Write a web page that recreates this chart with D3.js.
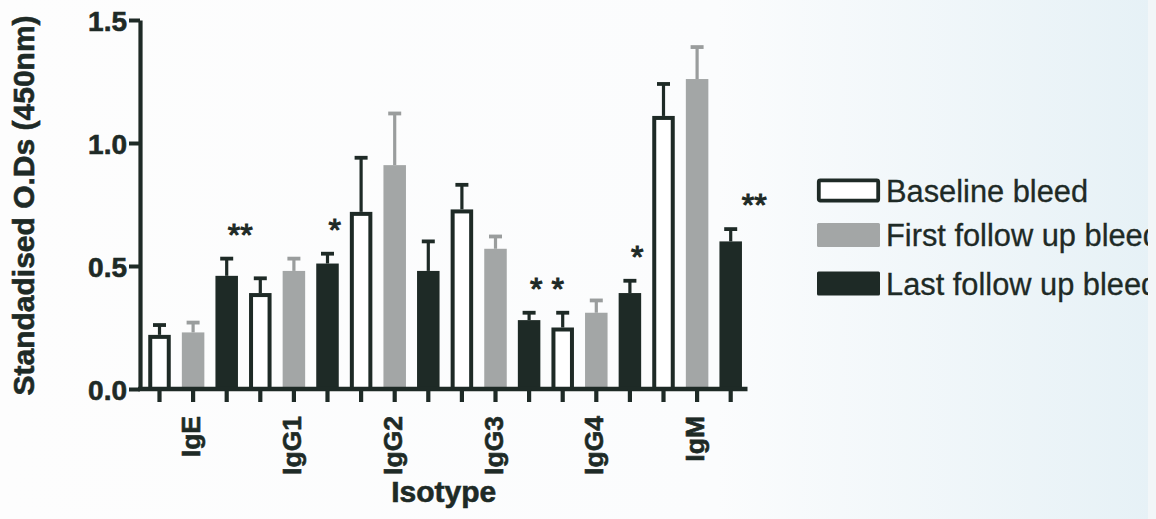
<!DOCTYPE html>
<html>
<head>
<meta charset="utf-8">
<script src="https://cdn.jsdelivr.net/npm/d3@7"></script>
<style>
  html, body { margin: 0; padding: 0; background: #fbfcfc; }
  svg { display: block; }
</style>
</head>
<body>
<svg id="chart" width="1156" height="519"></svg>
<script>
// ---------- data ----------
const categories = ["IgE", "IgG1", "IgG2", "IgG3", "IgG4", "IgM"];
const seriesNames = ["Baseline bleed", "First follow up bleed", "Last follow up bleed"];
const baselineMean = [0.22, 0.39, 0.72, 0.73, 0.25, 1.11];
const baselineErr  = [0.04, 0.06, 0.22, 0.10, 0.06, 0.13];
const firstMean    = [0.23, 0.48, 0.91, 0.57, 0.31, 1.26];
const firstErr     = [0.04, 0.05, 0.21, 0.05, 0.05, 0.13];
const lastMean     = [0.46, 0.51, 0.48, 0.28, 0.39, 0.60];
const lastErr      = [0.07, 0.04, 0.12, 0.03, 0.05, 0.05];
const yTicks = [0.0, 0.5, 1.0, 1.5];
// significance marks: [category, series index, label]
const marks = [
  ["IgE", 2, "**"],
  ["IgG1", 2, "*"],
  ["IgG3", 2, "* *"],
  ["IgG4", 2, "*"],
  ["IgM", 2, "**"]
];

// ---------- style / layout ----------
const INK = "#1e2a26";
const GREY = "#a3a6a6";
const fills = [ "#ffffff", GREY, INK ];
const errColors = [ INK, "#9a9d9d", INK ];
const markNudge = { IgM: 10 };
const SW = 4; // outline width of open bars

const svg = d3.select("#chart");
const W = 1156, H = 519;

// background (paper tint)
const defs = svg.append("defs");
const grad = defs.append("linearGradient").attr("id", "paper").attr("x1", "0").attr("x2", "1").attr("y1", "0").attr("y2", "0");
grad.append("stop").attr("offset", "0").attr("stop-color", "#fdfdfd");
grad.append("stop").attr("offset", "0.62").attr("stop-color", "#fbfcfd");
grad.append("stop").attr("offset", "1").attr("stop-color", "#e6f1f6");
svg.append("rect").attr("width", W).attr("height", H).attr("fill", "url(#paper)");
svg.append("rect").attr("x", 1148).attr("width", W - 1148).attr("height", H).attr("fill", "#f2f6f8");
defs.append("clipPath").attr("id", "pageclip").append("rect").attr("x", 0).attr("y", 0).attr("width", 1148).attr("height", H);

const series = [
  { name: seriesNames[0], mean: baselineMean, err: baselineErr },
  { name: seriesNames[1], mean: firstMean, err: firstErr },
  { name: seriesNames[2], mean: lastMean, err: lastErr }
];

const keys = [];
categories.forEach(c => series.forEach((s, i) => keys.push(c + "|" + i)));

const x = d3.scaleBand().domain(keys).range([142.7, 747.5]).paddingInner(0.33).paddingOuter(0.165);
const y = d3.scaleLinear().domain([0, 1.5]).range([389, 20]);
const axisLeftX = 140;

const bars = [];
categories.forEach((c, ci) => series.forEach((s, si) => {
  bars.push({ cat: c, si, key: c + "|" + si, v: s.mean[ci], e: s.err[ci] });
}));

const font = "'Liberation Sans', Arial, Helvetica, sans-serif";

// bars
const g = svg.append("g");
g.selectAll("rect.bar").data(bars).join("rect")
  .attr("class", "bar")
  .attr("x", d => x(d.key) + (d.si === 0 ? SW / 2 : 0))
  .attr("width", d => x.bandwidth() - (d.si === 0 ? SW : 0))
  .attr("y", d => y(d.v) + (d.si === 0 ? SW / 2 : 0))
  .attr("height", d => y(0) - y(d.v) - (d.si === 0 ? SW / 2 : 0))
  .attr("fill", d => fills[d.si])
  .attr("stroke", d => d.si === 0 ? INK : "none")
  .attr("stroke-width", SW);

// error bars
const capW = 13;
g.selectAll("line.err").data(bars).join("line")
  .attr("x1", d => x(d.key) + x.bandwidth() / 2)
  .attr("x2", d => x(d.key) + x.bandwidth() / 2)
  .attr("y1", d => y(d.v))
  .attr("y2", d => y(d.v + d.e))
  .attr("stroke", d => errColors[d.si])
  .attr("stroke-width", 3.2);
g.selectAll("line.cap").data(bars).join("line")
  .attr("x1", d => x(d.key) + x.bandwidth() / 2 - capW / 2)
  .attr("x2", d => x(d.key) + x.bandwidth() / 2 + capW / 2)
  .attr("y1", d => y(d.v + d.e))
  .attr("y2", d => y(d.v + d.e))
  .attr("stroke", d => errColors[d.si])
  .attr("stroke-width", 3.8);

// y axis
const yAxis = svg.append("g").attr("transform", `translate(${axisLeftX},0)`)
  .call(d3.axisLeft(y).tickValues(yTicks).tickFormat(d3.format(".1f")).tickSize(11).tickSizeOuter(0).tickPadding(2));
yAxis.select(".domain").attr("stroke", INK).attr("stroke-width", 4.2);
yAxis.selectAll(".tick line").attr("stroke", INK).attr("stroke-width", 4);
yAxis.selectAll(".tick text").attr("fill", INK).attr("font-family", font)
  .attr("font-weight", "bold").attr("font-size", 28).attr("dy", "0.36em")
  .attr("stroke", INK).attr("stroke-width", 0.6);

// x axis
const xAxis = svg.append("g").attr("transform", `translate(0,${y(0)})`)
  .call(d3.axisBottom(x).tickFormat("").tickSize(13).tickSizeOuter(0));
xAxis.select(".domain").attr("stroke", INK).attr("stroke-width", 4.6)
  .attr("d", `M${axisLeftX - 2},0H${x.range()[1]}`);
xAxis.selectAll(".tick line").attr("stroke", INK).attr("stroke-width", 4.2);

// category labels (under middle bar of each group)
svg.selectAll("text.cat").data(categories).join("text")
  .attr("class", "cat")
  .attr("transform", c => `translate(${x(c + "|1") + x.bandwidth() / 2 + 7},416) rotate(-90)`)
  .attr("text-anchor", "end")
  .attr("font-family", font).attr("font-weight", "bold").attr("font-size", 26.5)
  .attr("fill", INK).attr("stroke", INK).attr("stroke-width", 0.6)
  .text(c => c);

// axis titles
svg.append("text")
  .attr("x", (axisLeftX + x.range()[1]) / 2).attr("y", 502)
  .attr("text-anchor", "middle")
  .attr("font-family", font).attr("font-weight", "bold").attr("font-size", 30)
  .attr("fill", INK).attr("stroke", INK).attr("stroke-width", 0.6).text("Isotype");

svg.append("text")
  .attr("transform", `translate(34,${(y(0) + y(1.5)) / 2 + 1}) rotate(-90)`)
  .attr("text-anchor", "middle")
  .attr("font-family", font).attr("font-weight", "bold").attr("font-size", 30)
  .attr("fill", INK).attr("stroke", INK).attr("stroke-width", 0.6).text("Standadised O.Ds (450nm)");

// significance marks
svg.selectAll("text.mark").data(marks).join("text")
  .attr("class", "mark")
  .attr("x", m => x(m[0] + "|" + m[1]) + x.bandwidth() / 2 + 1 + (markNudge[m[0]] || 0))
  .attr("y", m => {
    const ci = categories.indexOf(m[0]);
    const s = series[m[1]];
    return y(s.mean[ci] + s.err[ci]) - 13;
  })
  .attr("font-family", font).attr("font-size", 32).attr("fill", INK)
  .attr("stroke", INK).attr("stroke-width", 1.1)
  .text(m => m[2]);

// legend
const legend = svg.append("g").attr("clip-path", "url(#pageclip)");
const legendRows = legend.selectAll("g.row").data(series).join("g")
  .attr("class", "row")
  .attr("transform", (s, i) => `translate(817,${[190.5, 235, 283.5][i]})`);
legendRows.append("rect")
  .attr("x", (s, i) => i === 0 ? 1.8 : 0)
  .attr("y", (s, i) => i === 0 ? -10.2 : -12)
  .attr("width", (s, i) => i === 0 ? 59.4 : 63)
  .attr("height", (s, i) => i === 0 ? 20.4 : 24)
  .attr("rx", 1.5)
  .attr("fill", (s, i) => fills[i])
  .attr("stroke", (s, i) => i === 0 ? INK : "none")
  .attr("stroke-width", 3.8);
legendRows.append("text")
  .attr("x", 69).attr("y", 11)
  .attr("font-family", font).attr("font-size", 30.8).attr("fill", INK)
  .attr("stroke", INK).attr("stroke-width", 0.3)
  .text(s => s.name);
</script>
</body>
</html>
